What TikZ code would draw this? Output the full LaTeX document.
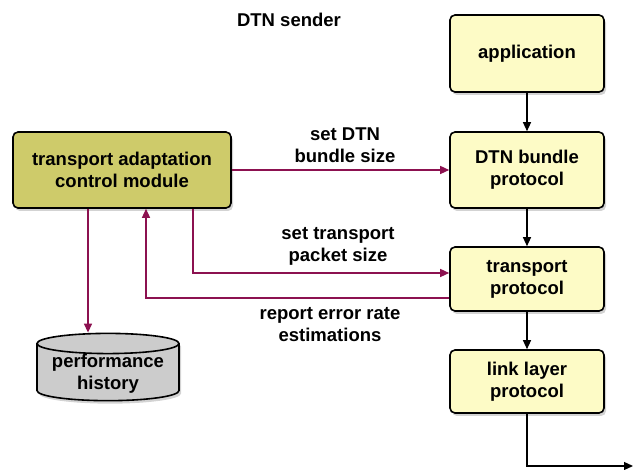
\documentclass[tikz,border=0pt]{standalone}
\usepackage{fontspec}
\setmainfont{Liberation Sans}
\usetikzlibrary{arrows.meta,shapes.geometric,shadows}
\definecolor{layercol}{HTML}{FDFBC6}
\definecolor{ctrlcol}{HTML}{CECB6A}
\definecolor{histcol}{HTML}{CCCCCC}
\definecolor{ctrlline}{HTML}{8C1150}
\tikzset{
  layer/.style={draw=black,line width=1.6pt,rounded corners=5pt,fill=layercol,
    minimum width=154pt,align=center,font=\fontsize{18.5}{22}\selectfont\bfseries,
    drop shadow={opacity=.35,shadow xshift=2pt,shadow yshift=-3pt}},
  ctrl/.style={layer,fill=ctrlcol,minimum width=218pt,minimum height=76pt},
  lbl/.style={align=center,font=\fontsize{18.5}{22}\selectfont\bfseries},
  down/.style={black,line width=1.3pt,-{Triangle[length=9pt,width=8pt]}},
  cmd/.style={ctrlline,line width=1.4pt,-{Triangle[length=9pt,width=8pt]}}
}
\begin{document}
\begin{tikzpicture}[x=1pt,y=-1pt]
  \useasboundingbox (0,0) rectangle (635,470);
  \node[lbl] (title) at (289,20) {DTN sender};
  \node[layer,minimum height=77pt] (app) at (527,53.5) {application};
  \node[layer,minimum height=76pt] (bundle) at (527,170) {DTN bundle\\protocol};
  \node[layer,minimum height=64pt] (trans) at (527,279) {transport\\protocol};
  \node[layer,minimum height=63pt] (link) at (527,381.5) {link layer\\protocol};
  \node[ctrl] (ctrl) at (122,170) {transport adaptation\\control module};
  \node[cylinder,shape border rotate=90,draw=black,line width=1.6pt,fill=histcol,
    minimum width=142pt,inner ysep=0pt,aspect=0.17,align=center,
    font=\fontsize{18.5}{22}\selectfont\bfseries,
    drop shadow={opacity=.35,shadow xshift=2pt,shadow yshift=-3pt}] (hist) at (108,374) {performance\\history};
  \coordinate (out) at (633,466);
  \node[lbl] (l1) at (345,145) {set DTN\\bundle size};
  \node[lbl] (l2) at (338,246) {set transport\\packet size};
  \node[lbl] (l3) at (330,325) {report error rate\\estimations};
  \begin{scope}[down]
    \draw (app) to (bundle);
    \draw (bundle) to (trans);
    \draw (trans) to (link);
    \draw (link.south) |- (out);
  \end{scope}
  \begin{scope}[cmd]
    \draw (ctrl) to (bundle);
    \draw (ctrl.south -| 193,0) |- (trans.west |- 0,273);
    \draw (trans.west |- 0,298) -| (ctrl.south -| 146,0);
    \draw (ctrl.south -| 88,0) to (hist.north -| 88,0);
  \end{scope}
\end{tikzpicture}
\end{document}
